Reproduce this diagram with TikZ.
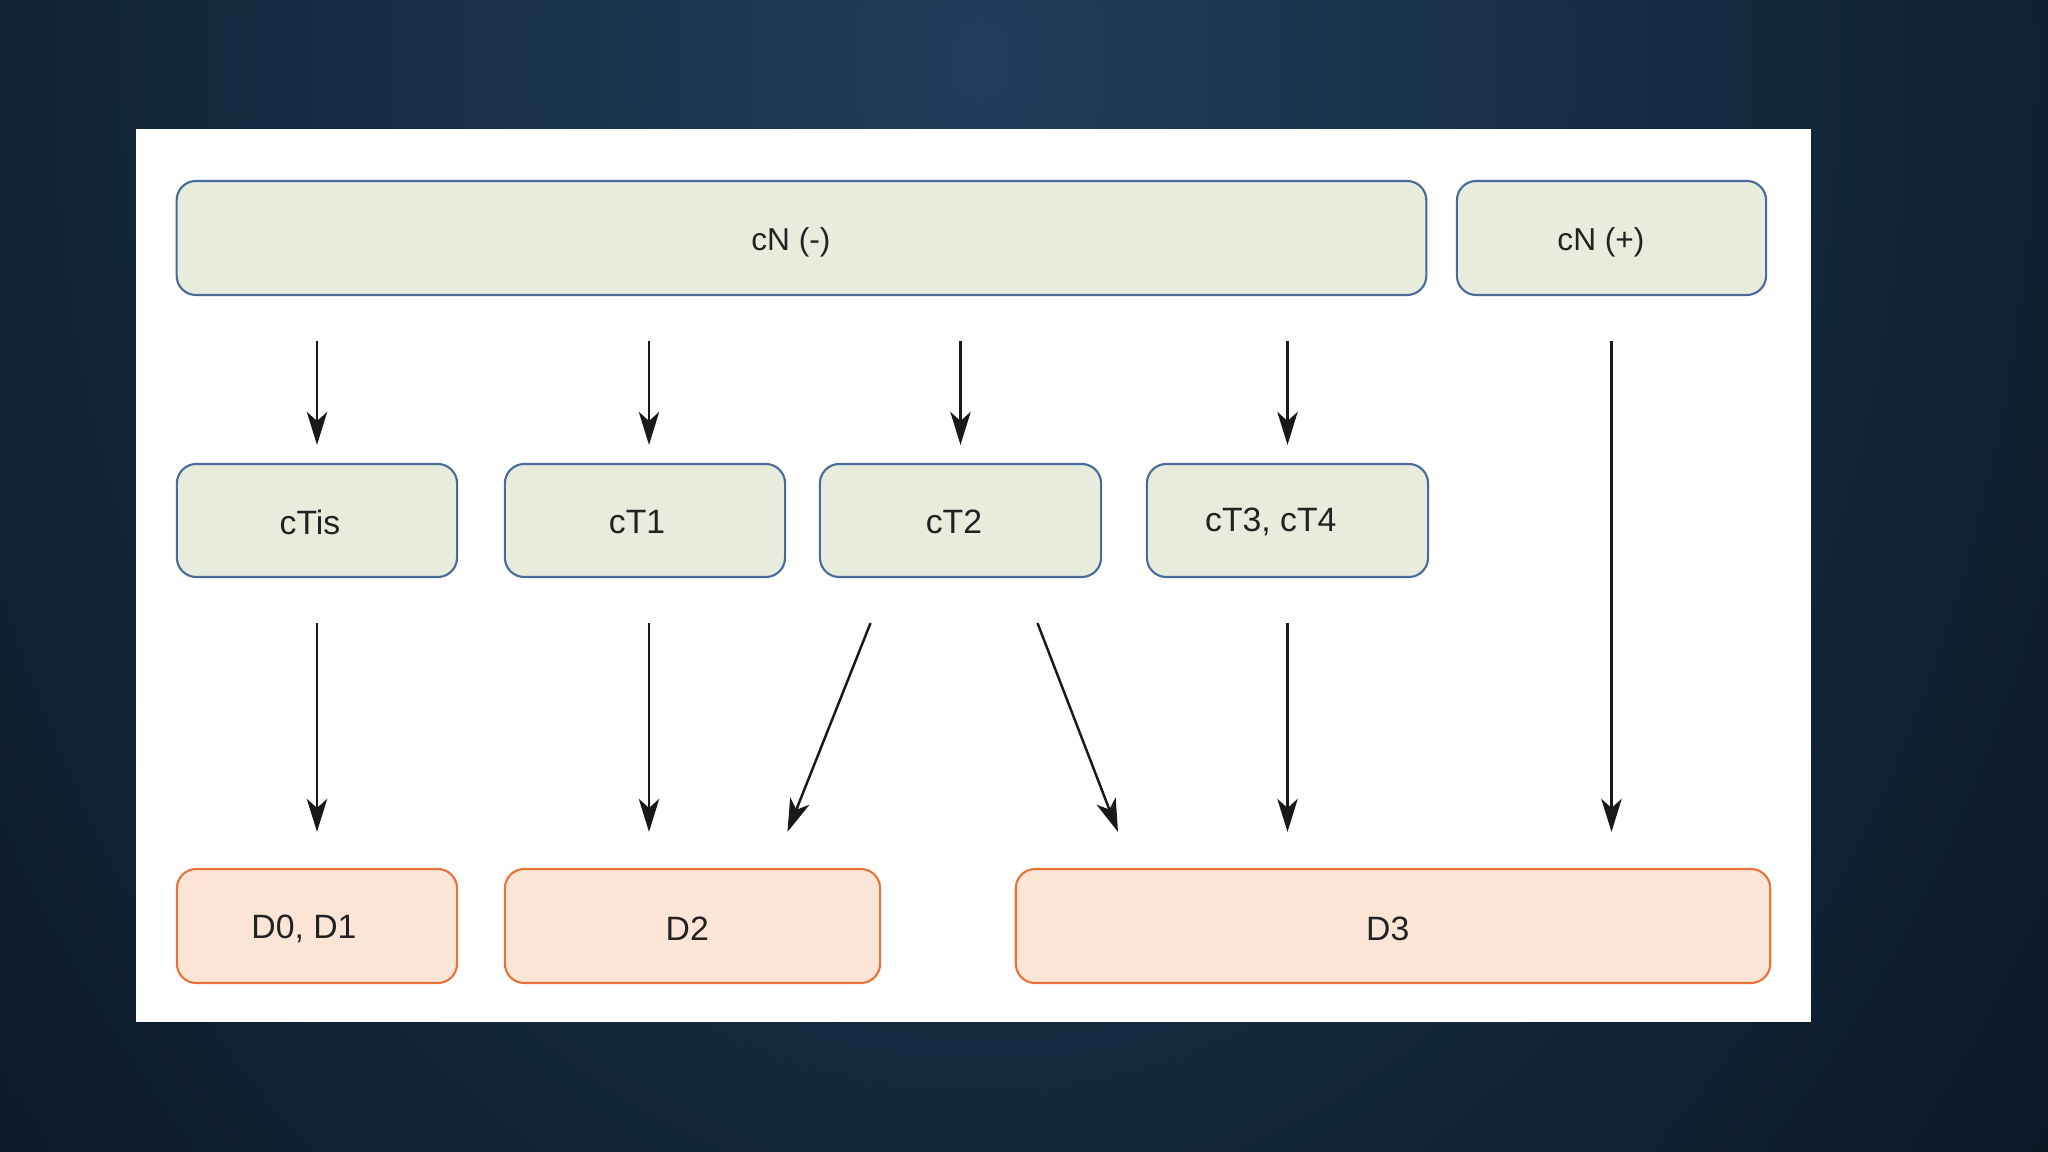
\documentclass[tikz,border=0pt]{standalone}
\usepackage{fontspec}
\setmainfont{Liberation Sans}
\usetikzlibrary{arrows.meta,calc}
\definecolor{bgdark}{RGB}{6,16,27}
\definecolor{bglight}{RGB}{32,62,92}
\definecolor{gfill}{RGB}{231,236,221}
\definecolor{gline}{RGB}{74,106,154}
\definecolor{ofill}{RGB}{251,229,214}
\definecolor{oline}{RGB}{232,115,58}
\definecolor{txt}{RGB}{34,34,34}
\newcommand{\lowr}[2]{\raisebox{-#1}[\height][\depth]{#2}}
\tikzset{
  gbox/.style={draw=gline, fill=gfill, line width=0.6pt, rounded corners=5.5pt, text=txt, inner sep=0pt},
  obox/.style={draw=oline, fill=ofill, line width=0.6pt, rounded corners=5.5pt, text=txt, inner sep=0pt},
  toptext/.style={font=\fontsize{9}{11}\selectfont},
  rowtext/.style={font=\fontsize{9.6}{11.5}\selectfont},
  arr/.style={draw=black!90, line width=0.7pt, -{Stealth[length=9.4pt,width=5.8pt,inset=2.6pt]}},
}
\begin{document}
\begin{tikzpicture}[x=0.01cm,y=-0.01cm]
\useasboundingbox (0,0) rectangle (2048,1152);
\begin{scope}
\clip (0,0) rectangle (2048,1152);
\fill[bgdark] (0,0) rectangle (2048,1152);
\shade[inner color=bglight, outer color=bgdark] (980,60) ellipse [x radius=1650, y radius=2200];
\end{scope}
\fill[white] (136,129) rectangle (1811,1022);

\node[gbox, toptext, minimum width=12.49cm, minimum height=1.14cm] (cNm) at (801.5,238) {\lowr{1.1pt}{cN (-)}\kern6pt};
\node[gbox, toptext, minimum width=3.09cm, minimum height=1.14cm] (cNp) at (1611.5,238) {\lowr{1.1pt}{cN (+)}\kern6pt};

\node[gbox, rowtext, minimum width=2.80cm, minimum height=1.13cm] (cTis) at (317,520.5) {\lowr{0.5pt}{cTis}\kern4pt};
\node[gbox, rowtext, minimum width=2.80cm, minimum height=1.13cm] (cT1) at (645,520.5) {\lowr{0.5pt}{cT1}\kern4.5pt};
\node[gbox, rowtext, minimum width=2.81cm, minimum height=1.13cm] (cT2) at (960.5,520.5) {\lowr{0.5pt}{cT2}\kern3.7pt};
\node[gbox, rowtext, minimum width=2.81cm, minimum height=1.13cm] (cT3) at (1287.5,520.5) {\lowr{0.5pt}{cT3, cT4}\kern9.5pt};

\node[obox, rowtext, minimum width=2.80cm, minimum height=1.14cm] (D0) at (317,926) {\lowr{0.8pt}{D0, D1}\kern7.4pt};
\node[obox, rowtext, minimum width=3.75cm, minimum height=1.14cm] (D2) at (692.5,926) {\lowr{0.8pt}{D2}\kern3pt};
\node[obox, rowtext, minimum width=7.54cm, minimum height=1.14cm] (D3) at (1393,926) {\lowr{0.8pt}{D3}\kern3pt};

% top row arrows
\draw[arr, shorten <=0.45cm, shorten >=0.18cm] (cTis.north |- cNm.south) -- (cTis.north);
\draw[arr, shorten <=0.45cm, shorten >=0.18cm] ($(cT1.north |- cNm.south)+(4,0)$) -- ($(cT1.north)+(4,0)$);
\draw[arr, shorten <=0.45cm, shorten >=0.18cm] (cT2.north |- cNm.south) -- (cT2.north);
\draw[arr, shorten <=0.45cm, shorten >=0.18cm] (cT3.north |- cNm.south) -- (cT3.north);
\draw[arr, shorten <=0.45cm, shorten >=0.36cm] (cNp.south) -- (D3.north -| cNp.south);

% second row arrows
\draw[arr, shorten <=0.45cm, shorten >=0.36cm] (cTis.south) -- (D0.north -| cTis.south);
\draw[arr, shorten <=0.45cm, shorten >=0.36cm] ($(cT1.south)+(4,0)$) -- ($(D2.north -| cT1.south)+(4,0)$);
\draw[arr] ($(cT2.south)+(-90,45)$) -- ($(D2.north)+(95,-36)$);
\draw[arr] ($(cT2.south)+(77,45)$) -- ($(D3.north)+(-275,-36)$);
\draw[arr, shorten <=0.45cm, shorten >=0.36cm] (cT3.south) -- (D3.north -| cT3.south);
\end{tikzpicture}
\end{document}
